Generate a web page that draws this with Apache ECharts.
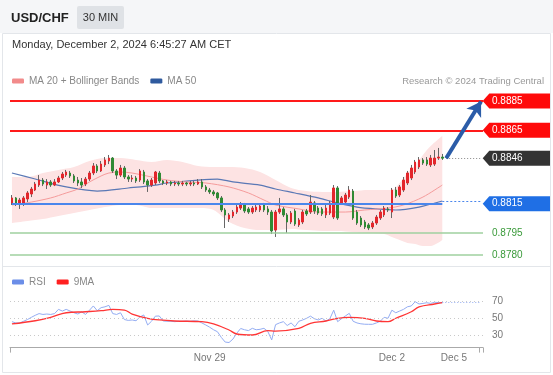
<!DOCTYPE html>
<html><head><meta charset="utf-8">
<script src="https://cdn.jsdelivr.net/npm/echarts@6/dist/echarts.min.js"></script>
<style>html,body{margin:0;padding:0;background:#fff}#c{width:553px;height:375px}</style>
</head><body><div id="c"></div>
<script>
// ---- price candles (30 min) ----
const opens = [0.88155,0.88189,0.88148,0.88148,0.88182,0.88216,0.88243,0.88277,0.88311,0.88277,
0.88298,0.88277,0.88298,0.88325,0.88345,0.88359,0.88339,0.88311,0.88298,0.88284,
0.88318,0.88359,0.88407,0.88373,0.88414,0.88441,0.88461,0.88373,0.88345,0.88393,
0.88332,0.88318,0.88325,0.88311,0.88366,0.88305,0.88277,0.88291,0.88359,0.88305,
0.88291,0.88298,0.88284,0.88291,0.88284,0.88291,0.88284,0.88291,0.88284,0.88298,
0.88264,0.88243,0.88230,0.88223,0.88189,0.88107,0.88045,0.88066,0.88093,0.88120,
0.88141,0.88114,0.88093,0.88107,0.88107,0.88141,0.88114,0.88093,0.87970,0.88093,
0.88114,0.88073,0.88025,0.88100,0.88005,0.88025,0.88100,0.88093,0.88155,0.88120,
0.88114,0.88073,0.88086,0.88059,0.88257,0.88155,0.88161,0.88195,0.88236,0.88093,
0.88052,0.88025,0.88005,0.87991,0.88018,0.88052,0.88073,0.88114,0.88093,0.88243,
0.88209,0.88243,0.88291,0.88325,0.88366,0.88400,0.88448,0.88448,0.88414,0.88420,
0.88461,0.88468];
const closes = [0.88189,0.88148,0.88175,0.88189,0.88223,0.88250,0.88284,0.88311,0.88284,0.88298,
0.88277,0.88298,0.88325,0.88352,0.88366,0.88339,0.88305,0.88291,0.88277,0.88318,
0.88359,0.88407,0.88373,0.88420,0.88448,0.88461,0.88373,0.88345,0.88393,0.88332,
0.88318,0.88325,0.88305,0.88373,0.88298,0.88277,0.88311,0.88366,0.88305,0.88291,
0.88298,0.88284,0.88291,0.88284,0.88291,0.88284,0.88291,0.88284,0.88298,0.88264,
0.88243,0.88230,0.88216,0.88189,0.88107,0.88073,0.88073,0.88093,0.88127,0.88148,
0.88100,0.88093,0.88120,0.88127,0.88134,0.88107,0.88093,0.87964,0.88093,0.88114,
0.88073,0.88025,0.88086,0.88011,0.88039,0.88093,0.88080,0.88161,0.88100,0.88086,
0.88080,0.88120,0.88155,0.88257,0.88052,0.88189,0.88209,0.88243,0.88052,0.88018,
0.88005,0.87991,0.87984,0.88018,0.88059,0.88093,0.88120,0.88107,0.88243,0.88202,
0.88264,0.88311,0.88359,0.88393,0.88434,0.88448,0.88427,0.88420,0.88461,0.88461,
0.88468,0.88460];
const highs = [0.88209,0.88195,0.88189,0.88202,0.88236,0.88264,0.88298,0.88345,0.88325,0.88318,
0.88311,0.88318,0.88339,0.88366,0.88380,0.88373,0.88352,0.88332,0.88325,0.88332,
0.88373,0.88427,0.88420,0.88441,0.88468,0.88482,0.88468,0.88386,0.88414,0.88407,
0.88345,0.88345,0.88339,0.88386,0.88380,0.88318,0.88325,0.88373,0.88373,0.88311,
0.88311,0.88305,0.88305,0.88305,0.88305,0.88298,0.88305,0.88305,0.88318,0.88318,
0.88277,0.88257,0.88243,0.88230,0.88202,0.88120,0.88086,0.88107,0.88141,0.88161,
0.88155,0.88127,0.88134,0.88141,0.88148,0.88155,0.88134,0.88107,0.88107,0.88189,
0.88127,0.88086,0.88100,0.88114,0.88052,0.88107,0.88114,0.88209,0.88168,0.88134,
0.88127,0.88141,0.88168,0.88277,0.88270,0.88202,0.88223,0.88270,0.88250,0.88107,
0.88066,0.88039,0.88018,0.88032,0.88073,0.88107,0.88134,0.88127,0.88257,0.88264,
0.88277,0.88332,0.88373,0.88414,0.88448,0.88468,0.88461,0.88468,0.88482,0.88516,
0.88530,0.88489];
const lows = [0.88141,0.88134,0.88114,0.88134,0.88161,0.88195,0.88236,0.88264,0.88270,0.88250,
0.88264,0.88270,0.88291,0.88311,0.88332,0.88325,0.88291,0.88270,0.88257,0.88270,
0.88305,0.88345,0.88359,0.88366,0.88400,0.88420,0.88359,0.88318,0.88332,0.88318,
0.88298,0.88298,0.88291,0.88298,0.88284,0.88230,0.88264,0.88277,0.88291,0.88277,
0.88277,0.88270,0.88270,0.88270,0.88270,0.88270,0.88270,0.88270,0.88277,0.88250,
0.88230,0.88216,0.88202,0.88175,0.88093,0.87984,0.88025,0.88052,0.88080,0.88107,
0.88086,0.88080,0.88080,0.88093,0.88093,0.88093,0.88073,0.87943,0.87923,0.88080,
0.88059,0.87950,0.88011,0.87998,0.87991,0.88011,0.88066,0.88080,0.88080,0.88073,
0.88066,0.88052,0.88073,0.88045,0.88039,0.88141,0.88148,0.88182,0.88039,0.88005,
0.87991,0.87977,0.87970,0.87977,0.88005,0.88039,0.88059,0.88093,0.88052,0.88189,
0.88195,0.88230,0.88277,0.88311,0.88352,0.88386,0.88414,0.88407,0.88400,0.88407,
0.88448,0.88448];

// ---- indicators (candle index, value) ----
const ma50Idx = [0,6,14,22,30,37,40,48,53,57,64,68,73,79,84,89,94,99,105,111];
const ma50Val = [0.88359,0.88318,0.88264,0.88236,0.88257,0.88277,0.88291,0.88311,0.88318,0.88298,
0.88277,0.88250,0.88223,0.88189,0.88155,0.88127,0.88114,0.88107,0.88127,0.88168];
const ma20Idx = [0,5,10,14,17,20,23,25,28,31,36,40,45,50,56,61,65,68,74,79,86,91,97,101,106,111];
const ma20Val = [0.88141,0.88161,0.88189,0.88223,0.88250,0.88298,0.88339,0.88359,0.88366,0.88359,
0.88332,0.88311,0.88298,0.88291,0.88264,0.88223,0.88175,0.88141,0.88114,0.88093,
0.88093,0.88107,0.88120,0.88141,0.88195,0.88277];
const bbIdx = [0,4,8,12,16,20,24,28,32,36,40,44,48,52,56,60,64,68,72,76,80,84,88,92,96,98,100,102,104,106,108,111];
const bbUpper = [0.88332,0.88332,0.88359,0.88380,0.88400,0.88441,0.88461,0.88461,0.88448,0.88434,
0.88448,0.88434,0.88407,0.88400,0.88400,0.88393,0.88366,0.88311,0.88257,0.88236,
0.88230,0.88230,0.88236,0.88243,0.88243,0.88243,0.88291,0.88359,0.88414,0.88482,
0.88543,0.88611];
const bbLower = [0.88018,0.88032,0.88045,0.88066,0.88086,0.88107,0.88127,0.88141,0.88141,0.88120,
0.88120,0.88120,0.88120,0.88107,0.88025,0.87984,0.87970,0.87970,0.87977,0.87970,
0.87964,0.87964,0.87957,0.87950,0.87943,0.87923,0.87902,0.87882,0.87875,0.87861,
0.87861,0.87902];

// ---- RSI panel ----
const rsi = [46.5,45,45,47,49,51.6,54,56,55,55.5,55,56,61,59,61,59,57,55.5,58,55,
60,65,59.4,63,64,65.7,56,55,57,49,48,48.5,47.6,52,54.4,42.6,47,53,53.2,47.3,
47,47,46.5,47,47,47.3,47,47.5,47.3,45,42.6,40,37,34.7,28,22.5,22,26,33,38.5,
37,36,38.7,37,37.5,38.7,35,25,43,45,46.5,42,45,40.6,47,48.5,50.5,53,50,48.5,
50.5,47.3,50,60,46.5,50,53.2,56.3,47,45,44,43.5,43.4,43.4,45,47,51.6,50.5,60,57,
59,61,64,65,70,67.3,68,68.8,68,69.3,69,68.8];
const ma9Idx = [0,6,10,14,19,23,26,29,31,35,38,42,49,52,56,58,62,66,68,74,77,81,84,87,91,94,97,99,103,105,109,111];
const ma9Val = [43.8,47.6,51.6,57,58.2,59.4,61,60.2,55.5,50.5,48.5,47.3,46.5,43.8,36.7,32,30.8,35.9,35.5,38.7,
44.6,47.3,50.5,51.6,50.5,47.3,46.5,50.5,58.2,64,67.3,68.8];
const rsiLevels = [70, 50, 30];

// ---- levels / labels ----
const resistances = [0.8885, 0.8865];
const lastPrice = 0.8846;
const pivot = 0.8815;
const supports = [0.8795, 0.8780];
const tickIdx = [51, 98, 114];
const tickText = ['Nov 29', 'Dec 2', 'Dec 5'];
const nSlots = 122;

const cats = Array.from({length: nSlots}, (_, i) => String(i));
const pairs = (ix, vs) => ix.map((x, k) => [x, vs[k]]);
const wickData = opens.map((o, i) => [o, closes[i], lows[i], highs[i]]);
const bodyData = opens.map((o, i) => [o, closes[i], Math.min(o, closes[i]), Math.max(o, closes[i])]);
const lastIdx = opens.length - 1;
const FONT = '"Liberation Sans", Arial, sans-serif';

const chart = echarts.init(document.getElementById('c'), null, {renderer: 'canvas'});
const noLbl = {show: false};
const hLine = (v, color, width) => [{coord: [0, v], lineStyle: {color: color, width: width, type: 'solid'}}, {coord: [nSlots - 1, v]}];
const option = {
  animation: false,
  textStyle: {fontFamily: FONT},
  legend: [
    {data: [{name: 'MA 20 + Bollinger Bands', itemStyle: {color: '#f28b8b'}}, {name: 'MA 50', itemStyle: {color: '#2f5a9e'}}],
     left: 12, top: 76, padding: 0, itemWidth: 12, itemHeight: 5, icon: 'roundRect', itemGap: 11, selectedMode: false,
     textStyle: {fontSize: 10, color: '#888', fontFamily: FONT}},
    {data: [{name: 'RSI', itemStyle: {color: '#6b8ee8'}}, {name: '9MA', itemStyle: {color: '#ff2020'}}],
     left: 12, top: 277, padding: 0, itemWidth: 12, itemHeight: 5, icon: 'roundRect', itemGap: 11, selectedMode: false,
     textStyle: {fontSize: 10, color: '#888', fontFamily: FONT}}
  ],
  grid: [
    {left: 10, width: 473, top: 71.67, height: 190.67},
    {left: 10, width: 473, top: 293.2, height: 54.4}
  ],
  xAxis: [
    {gridIndex: 0, type: 'category', data: cats, show: false, boundaryGap: false},
    {gridIndex: 0, type: 'category', data: cats, show: false, boundaryGap: true},
    {gridIndex: 1, type: 'category', data: cats, boundaryGap: true,
     axisLine: {lineStyle: {color: '#aaa', width: 1}},
     axisTick: {show: true, length: 5, lineStyle: {color: '#aaa'}, interval: (i) => i === 0 || i === nSlots - 1},
     axisLabel: {interval: (i) => tickIdx.indexOf(i) >= 0, formatter: (v, i) => tickText[tickIdx.indexOf(Number(v))] || '',
       color: '#777', fontSize: 10, margin: 6, fontFamily: FONT},
     splitLine: {show: false}}
  ],
  yAxis: [
    {gridIndex: 0, type: 'value', min: 0.8775, max: 0.8905, show: false, splitLine: {show: false}},
    {gridIndex: 1, type: 'value', min: 16, max: 80, show: false, splitLine: {show: false}}
  ],
  series: [
    {name: 'bbLow', type: 'line', xAxisIndex: 1, yAxisIndex: 0, stack: 'bb', smooth: 0.3, symbol: 'none',
     lineStyle: {width: 0, opacity: 0}, data: pairs(bbIdx, bbLower), silent: true, z: 1},
    {name: 'bbBand', type: 'line', xAxisIndex: 1, yAxisIndex: 0, stack: 'bb', smooth: 0.3, symbol: 'none',
     lineStyle: {width: 0, opacity: 0}, areaStyle: {color: '#fde3e3', opacity: 1},
     data: pairs(bbIdx, bbUpper.map((u, k) => u - bbLower[k])), silent: true, z: 0},
    {name: 'levels', type: 'line', xAxisIndex: 0, yAxisIndex: 0, symbol: 'none', data: [], silent: true, z: 1,
     markLine: {silent: true, symbol: ['none', 'none'], label: noLbl,
       data: [
         hLine(resistances[0], '#ff1a1a', 2),
         hLine(resistances[1], '#ff1a1a', 2),
         hLine(supports[0], '#9fd19f', 1.5),
         hLine(supports[1], '#9fd19f', 1.5)
       ]}},
    {name: 'MA 50', type: 'line', xAxisIndex: 1, yAxisIndex: 0, smooth: 0.3, symbol: 'none',
     lineStyle: {color: '#5a78b5', width: 1.2}, itemStyle: {color: '#5a78b5'}, data: pairs(ma50Idx, ma50Val), z: 2,
     markLine: {silent: true, symbol: ['none', 'none'], label: noLbl,
       data: [
         [{coord: [0, pivot], lineStyle: {color: '#4a86ec', width: 2, type: 'solid'}}, {coord: [lastIdx, pivot]}],
         [{coord: [lastIdx, ma50Val[ma50Val.length - 1]], lineStyle: {color: '#4a86ec', width: 1, type: [2, 2]}}, {coord: [nSlots - 1, ma50Val[ma50Val.length - 1]]}],
         [{coord: [lastIdx + 1, lastPrice], lineStyle: {color: '#888', width: 1, type: [1, 2]}}, {coord: [nSlots - 1, lastPrice]}]
       ]}},
    {name: 'MA 20 + Bollinger Bands', type: 'line', xAxisIndex: 1, yAxisIndex: 0, smooth: 0.3, symbol: 'none',
     lineStyle: {color: '#f59b9b', width: 1}, itemStyle: {color: '#f59b9b'}, data: pairs(ma20Idx, ma20Val), z: 2},
    {name: 'wick', type: 'candlestick', xAxisIndex: 1, yAxisIndex: 0, barWidth: 1, data: wickData, z: 3,
     itemStyle: {color: '#666', color0: '#666', borderColor: '#666', borderColor0: '#666', borderWidth: 1}},
    {name: 'body', type: 'candlestick', xAxisIndex: 1, yAxisIndex: 0, barWidth: 2, data: bodyData, z: 4,
     itemStyle: {color: '#e3262b', color0: '#2f8a34', borderColor: '#e3262b', borderColor0: '#2f8a34', borderWidth: 1},
     markLine: {silent: true, symbol: ['none', 'arrow'], symbolSize: [13, 14], label: noLbl,
       data: [[{coord: [lastIdx + 1, lastPrice], lineStyle: {color: '#2b5ca8', width: 4, type: 'solid'}},
               {coord: [nSlots - 1, resistances[0] - 0.00003]}]]}},
    {name: 'RSI', type: 'line', xAxisIndex: 2, yAxisIndex: 1, symbol: 'none', data: rsi,
     lineStyle: {color: '#93acf2', width: 1}, itemStyle: {color: '#93acf2'}, z: 3,
     markLine: {silent: true, symbol: ['none', 'none'],
       data: rsiLevels.map(v => ({yAxis: v, lineStyle: {color: '#c9c9c9', width: 1, type: [1, 3]},
                 label: {show: true, position: 'end', distance: 9, formatter: String(v), color: '#777', fontSize: 10, fontFamily: FONT}}))
         .concat([[{coord: [lastIdx, rsi[lastIdx]], lineStyle: {color: '#93acf2', width: 1, type: [1, 2]}, label: noLbl},
                   {coord: [nSlots - 1, rsi[lastIdx]]}]])}},
    {name: '9MA', type: 'line', xAxisIndex: 2, yAxisIndex: 1, smooth: 0.4, symbol: 'none', data: pairs(ma9Idx, ma9Val),
     lineStyle: {color: '#ff3535', width: 1.3}, itemStyle: {color: '#ff3535'}, z: 4}
  ]
};
chart.setOption(option);

// header, frame and price tags
const yOf = v => chart.convertToPixel({yAxisIndex: 0}, v);
function tag(v, color) {
  const y = yOf(v);
  return [
    {type: 'polygon', shape: {points: [[482.7, y], [489.3, y - 7.5], [550, y - 7.5], [550, y + 7.5], [489.3, y + 7.5]]},
     style: {fill: color}, z: 100},
    {type: 'text', style: {text: v.toFixed(4), x: 492, y: y, fill: '#fff', font: '10px ' + FONT, verticalAlign: 'middle'}, z: 101}
  ];
}
function greenLbl(v) {
  return {type: 'text', style: {text: v.toFixed(4), x: 492, y: yOf(v), fill: '#3a9a3a', font: '10px ' + FONT, verticalAlign: 'middle'}, z: 101};
}
const g = [
  {type: 'rect', shape: {x: 0, y: 0, width: 553, height: 33}, style: {fill: '#f5f6f8'}, z: -10},
  {type: 'rect', shape: {x: 2.5, y: 33.5, width: 548, height: 339}, style: {fill: 'none', stroke: '#e3e6ea', lineWidth: 1}, z: -9},
  {type: 'line', shape: {x1: 2.5, y1: 266.5, x2: 550.5, y2: 266.5}, style: {stroke: '#e3e6ea', lineWidth: 1}, z: -9},
  {type: 'text', style: {text: 'USD/CHF', x: 11, y: 18, fill: '#222', font: 'bold 13px ' + FONT, verticalAlign: 'middle'}},
  {type: 'rect', shape: {x: 77, y: 6, width: 47, height: 23, r: 2}, style: {fill: '#dfe2e6'}},
  {type: 'text', style: {text: '30 MIN', x: 100.5, y: 18, fill: '#333', font: '11px ' + FONT, align: 'center', verticalAlign: 'middle'}},
  {type: 'text', style: {text: 'Monday, December 2, 2024 6:45:27 AM CET', x: 12, y: 45, fill: '#333', font: '11px ' + FONT, verticalAlign: 'middle'}},
  {type: 'text', style: {text: 'Research © 2024 Trading Central', x: 544, y: 81, fill: '#999', font: '9.5px ' + FONT, align: 'right', verticalAlign: 'middle'}},
  greenLbl(supports[0]), greenLbl(supports[1])
].concat(tag(resistances[0], '#ff0a0a'), tag(resistances[1], '#ff0a0a'), tag(lastPrice, '#333333'), tag(pivot, '#1f6fe5'));
chart.setOption({graphic: g});
</script></body></html>
